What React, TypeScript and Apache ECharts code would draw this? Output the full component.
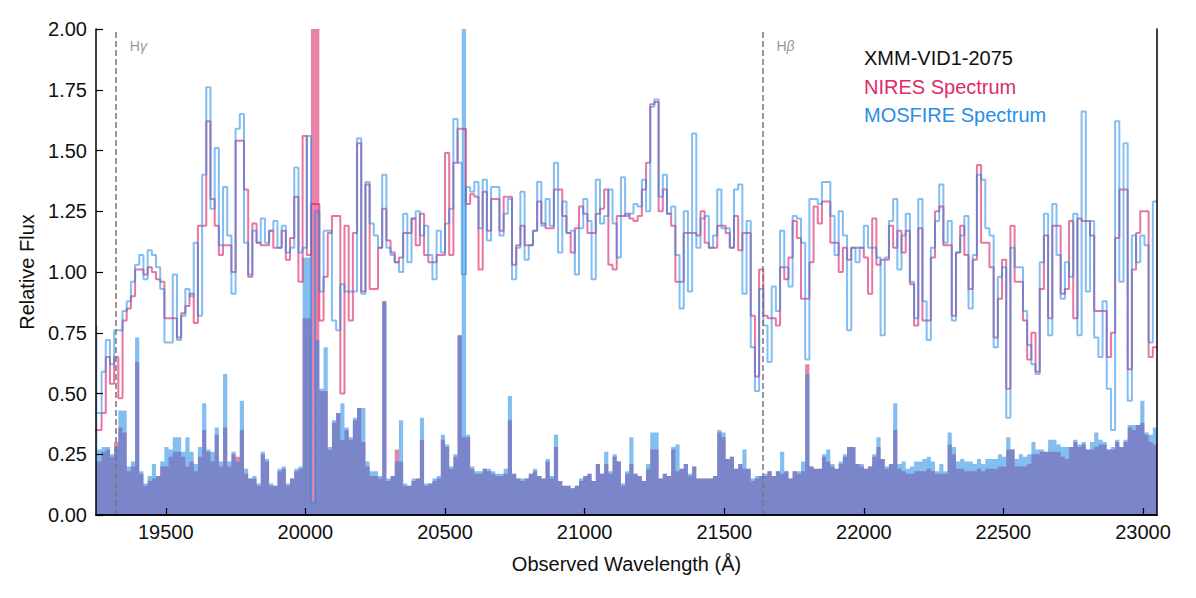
import React, { useEffect, useRef } from "react";
import * as echarts from "echarts";

// Wavelength grid of the rebinned spectra (left edge of first bin, bin width in Å)
const BIN_START = 19240;
const BIN_WIDTH = 15;
const X_MIN = 19250;
const X_MAX = 23050;

const H_GAMMA = 19321;
const H_BETA = 21637;

const niresFlux = [
  0.35, 0.35, 0.42, 0.65, 0.54, 0.65, 0.48, 0.80, 0.85, 0.90,
  1.01, 1.01, 0.99, 1.02, 1.00, 0.97, 0.96, 0.81, 0.81, 0.81,
  0.73, 0.83, 0.86, 0.91, 0.79, 1.19, 1.19, 1.62, 1.30, 1.19,
  1.07, 1.11, 1.11, 1.00, 1.54, 1.54, 1.34, 0.98, 1.20, 1.12,
  1.11, 1.11, 1.17, 1.10, 1.10, 1.17, 1.05, 1.14, 1.31, 0.96,
  1.56, 1.07, 1.28, 1.28, 0.80, 0.98, 1.16, 1.23, 1.23, 0.50,
  1.19, 0.80, 1.16, 1.53, 0.92, 1.36, 0.93, 0.93, 1.10, 1.26,
  1.13, 1.08, 1.04, 1.06, 1.16, 1.16, 1.22, 1.11, 1.24, 1.07,
  1.04, 1.04, 1.07, 1.07, 1.49, 1.07, 1.45, 1.59, 1.59, 1.28,
  1.32, 1.31, 1.01, 1.33, 1.17, 1.30, 1.30, 1.17, 1.31, 1.31,
  1.03, 1.11, 1.19, 1.11, 1.11, 1.17, 1.29, 1.20, 1.18, 1.18,
  1.34, 1.34, 1.23, 1.16, 1.08, 1.18, 1.27, 1.24, 1.16, 1.16,
  1.24, 1.26, 1.34, 1.03, 1.01, 1.23, 1.23, 1.24, 1.22, 1.21,
  1.23, 1.34, 1.45, 1.69, 1.70, 1.25, 1.34, 1.24, 1.19, 0.96,
  0.96, 1.16, 1.16, 1.16, 1.15, 1.25, 1.12, 1.10, 1.10, 1.19,
  1.19, 1.16, 1.10, 1.23, 1.09, 1.16, 1.16, 0.82, 0.57, 1.01,
  0.82, 0.81, 0.81, 0.78, 1.02, 0.97, 1.06, 1.21, 1.14, 0.89,
  0.89, 1.04, 1.27, 1.20, 1.29, 1.29, 1.12, 1.12, 1.00, 1.10,
  1.05, 1.10, 1.10, 1.10, 1.06, 0.91, 1.22, 1.03, 1.05, 1.05,
  1.19, 1.10, 1.17, 1.08, 1.17, 0.95, 0.78, 1.18, 0.80, 0.80,
  1.06, 1.25, 1.27, 1.11, 1.11, 0.82, 1.08, 1.19, 1.07, 0.93,
  1.05, 1.44, 1.12, 1.12, 1.02, 0.73, 0.89, 1.05, 0.52, 1.19,
  0.96, 0.96, 0.80, 0.64, 0.75, 0.59, 0.93, 1.15, 0.81, 1.19,
  1.19, 0.91, 0.93, 1.21, 0.81, 1.22, 1.21, 1.21, 1.15, 0.84,
  0.84, 0.84, 0.65, 0.75, 1.14, 1.34, 1.34, 0.60, 1.01, 1.16,
  1.25, 1.25, 0.65, 0.69,
];

const mosfireFlux = [
  0.42, 0.42, 0.59, 0.72, 0.62, 0.76, 0.76, 0.84, 0.88, 0.96,
  1.03, 1.07, 0.97, 1.09, 1.07, 1.02, 0.93, 0.71, 0.71, 0.99,
  0.72, 0.82, 0.93, 0.90, 1.12, 0.82, 1.40, 1.76, 1.26, 1.51,
  1.11, 1.35, 1.15, 0.91, 1.59, 1.65, 1.12, 0.99, 1.17, 1.12,
  1.22, 1.12, 1.17, 1.21, 1.10, 1.19, 1.08, 1.10, 1.43, 1.08,
  1.10, 1.56, 0.05, 1.25, 0.92, 1.17, 1.17, 0.80, 0.76, 0.95,
  0.92, 0.92, 0.92, 1.55, 0.91, 1.37, 1.20, 1.15, 1.10, 1.40,
  1.10, 1.07, 1.04, 1.00, 1.24, 1.04, 1.22, 1.25, 1.15, 1.19,
  1.07, 0.97, 1.17, 1.08, 1.20, 1.26, 1.63, 1.45, 0.99, 1.35,
  1.33, 1.37, 1.18, 1.38, 1.13, 1.35, 1.35, 1.15, 1.24, 1.30,
  0.97, 1.10, 1.33, 1.05, 1.11, 1.17, 1.37, 1.19, 1.30, 1.19,
  1.45, 1.08, 1.29, 1.16, 1.17, 0.99, 1.18, 1.30, 1.21, 0.97,
  1.38, 1.20, 1.23, 1.34, 1.20, 1.06, 1.39, 1.23, 1.24, 1.28,
  1.27, 1.38, 1.25, 1.68, 1.71, 1.31, 1.40, 1.24, 1.27, 1.07,
  0.85, 1.25, 0.92, 1.57, 1.10, 1.22, 1.23, 1.10, 1.15, 1.34,
  1.18, 1.18, 1.10, 1.34, 1.36, 0.91, 1.21, 0.69, 0.51, 0.93,
  0.78, 0.63, 0.94, 0.84, 1.17, 1.02, 0.94, 1.23, 1.22, 1.12,
  0.64, 1.30, 1.30, 1.28, 1.37, 1.37, 1.23, 1.07, 1.25, 1.15,
  0.76, 1.10, 1.04, 1.10, 1.19, 1.10, 1.10, 1.06, 0.74, 1.06,
  1.21, 1.30, 1.01, 1.15, 1.24, 0.96, 0.81, 1.30, 0.88, 0.72,
  1.10, 1.21, 1.36, 1.12, 1.21, 0.80, 1.08, 1.15, 1.23, 0.85,
  1.07, 1.40, 1.38, 1.18, 1.15, 0.69, 0.98, 1.02, 0.40, 1.10,
  1.02, 1.02, 0.84, 0.70, 0.62, 0.58, 1.04, 1.24, 0.74, 1.28,
  1.07, 0.89, 1.04, 0.98, 1.24, 0.74, 1.66, 0.92, 1.21, 0.73,
  0.65, 0.88, 0.52, 0.35, 1.62, 0.96, 1.53, 0.47, 1.15, 1.04,
  1.15, 1.11, 0.71, 1.29,
];

const niresErr = [
  0.22, 0.22, 0.26, 0.27, 0.24, 0.30, 0.36, 0.34, 0.18, 0.20,
  0.63, 0.17, 0.12, 0.14, 0.15, 0.16, 0.20, 0.20, 0.24, 0.26,
  0.26, 0.24, 0.20, 0.22, 0.18, 0.24, 0.35, 0.26, 0.22, 0.33,
  0.20, 0.36, 0.20, 0.25, 0.24, 0.35, 0.17, 0.15, 0.15, 0.12,
  0.25, 0.22, 0.12, 0.12, 0.18, 0.19, 0.12, 0.15, 0.18, 0.19,
  0.81, 0.81, 2.60, 2.60, 0.51, 0.51, 0.27, 0.38, 0.42, 0.31,
  0.35, 0.31, 0.39, 0.44, 0.30, 0.20, 0.16, 0.16, 0.15, 0.88,
  0.14, 0.16, 0.27, 0.22, 0.12, 0.12, 0.14, 0.15, 0.31, 0.12,
  0.13, 0.14, 0.15, 0.31, 0.28, 0.19, 0.24, 0.74, 0.32, 0.32,
  0.19, 0.17, 0.17, 0.19, 0.18, 0.17, 0.16, 0.16, 0.17, 0.39,
  0.17, 0.15, 0.14, 0.15, 0.17, 0.18, 0.16, 0.15, 0.22, 0.15,
  0.28, 0.14, 0.12, 0.12, 0.11, 0.12, 0.14, 0.16, 0.17, 0.14,
  0.21, 0.17, 0.21, 0.17, 0.24, 0.22, 0.12, 0.17, 0.21, 0.17,
  0.16, 0.14, 0.19, 0.27, 0.27, 0.15, 0.17, 0.16, 0.27, 0.18,
  0.19, 0.21, 0.16, 0.20, 0.15, 0.15, 0.15, 0.15, 0.16, 0.34,
  0.32, 0.23, 0.24, 0.19, 0.21, 0.19, 0.19, 0.14, 0.15, 0.16,
  0.16, 0.18, 0.16, 0.18, 0.17, 0.18, 0.15, 0.18, 0.17, 0.18,
  0.62, 0.20, 0.19, 0.19, 0.24, 0.22, 0.20, 0.19, 0.21, 0.24,
  0.28, 0.28, 0.21, 0.20, 0.19, 0.20, 0.24, 0.28, 0.23, 0.19,
  0.21, 0.35, 0.19, 0.18, 0.17, 0.17, 0.18, 0.18, 0.18, 0.19,
  0.18, 0.17, 0.17, 0.17, 0.29, 0.25, 0.19, 0.19, 0.18, 0.18,
  0.18, 0.19, 0.18, 0.19, 0.19, 0.19, 0.20, 0.20, 0.27, 0.27,
  0.20, 0.20, 0.20, 0.21, 0.25, 0.25, 0.26, 0.26, 0.26, 0.26,
  0.26, 0.24, 0.23, 0.28, 0.30, 0.28, 0.29, 0.27, 0.27, 0.28,
  0.29, 0.29, 0.27, 0.27, 0.30, 0.28, 0.30, 0.36, 0.35, 0.37,
  0.38, 0.33, 0.30, 0.29,
];

const mosfireErr = [
  0.78, 0.27, 0.28, 0.28, 0.25, 0.28, 0.43, 0.43, 0.20, 0.22,
  0.73, 0.18, 0.13, 0.16, 0.21, 0.16, 0.22, 0.28, 0.27, 0.32,
  0.32, 0.26, 0.32, 0.26, 0.21, 0.28, 0.46, 0.27, 0.26, 0.36,
  0.22, 0.58, 0.22, 0.26, 0.22, 0.47, 0.19, 0.15, 0.16, 0.13,
  0.26, 0.23, 0.13, 0.12, 0.19, 0.20, 0.13, 0.15, 0.19, 0.20,
  1.06, 1.06, 0.05, 0.72, 0.52, 0.69, 0.28, 0.39, 0.42, 0.46,
  0.36, 0.32, 0.40, 0.44, 0.44, 0.22, 0.18, 0.18, 0.16, 0.88,
  0.15, 0.16, 0.22, 0.39, 0.13, 0.12, 0.15, 0.15, 0.40, 0.13,
  0.13, 0.15, 0.16, 0.33, 0.29, 0.20, 0.25, 0.74, 2.60, 0.33,
  0.20, 0.18, 0.18, 0.19, 0.19, 0.18, 0.17, 0.17, 0.19, 0.49,
  0.17, 0.15, 0.15, 0.15, 0.17, 0.19, 0.16, 0.15, 0.23, 0.16,
  0.33, 0.14, 0.12, 0.12, 0.11, 0.12, 0.15, 0.16, 0.17, 0.14,
  0.21, 0.17, 0.26, 0.18, 0.25, 0.22, 0.13, 0.18, 0.32, 0.17,
  0.16, 0.14, 0.21, 0.34, 0.34, 0.15, 0.17, 0.16, 0.28, 0.29,
  0.19, 0.21, 0.17, 0.20, 0.15, 0.15, 0.15, 0.15, 0.16, 0.35,
  0.34, 0.23, 0.24, 0.19, 0.21, 0.27, 0.19, 0.15, 0.16, 0.16,
  0.17, 0.18, 0.16, 0.18, 0.26, 0.18, 0.15, 0.18, 0.18, 0.22,
  0.58, 0.20, 0.19, 0.19, 0.25, 0.27, 0.21, 0.19, 0.22, 0.25,
  0.28, 0.28, 0.21, 0.21, 0.19, 0.20, 0.25, 0.32, 0.23, 0.20,
  0.21, 0.46, 0.21, 0.22, 0.19, 0.20, 0.22, 0.22, 0.23, 0.24,
  0.22, 0.18, 0.21, 0.18, 0.34, 0.28, 0.22, 0.23, 0.22, 0.22,
  0.21, 0.23, 0.21, 0.23, 0.23, 0.23, 0.25, 0.24, 0.32, 0.27,
  0.23, 0.25, 0.24, 0.25, 0.30, 0.27, 0.27, 0.26, 0.31, 0.31,
  0.29, 0.28, 0.28, 0.28, 0.31, 0.29, 0.30, 0.27, 0.30, 0.34,
  0.31, 0.30, 0.27, 0.28, 0.31, 0.28, 0.31, 0.37, 0.37, 0.37,
  0.47, 0.34, 0.33, 0.36,
];

const xTickLabelDigits = 0;
const yTickLabelDigits = 2;

const FONT = "'Liberation Sans', Arial, Helvetica, sans-serif";
const PINK = "216,27,96";
const BLUE = "30,136,229";

function stepPoints(values: number[]): number[][] {
  const pts = values.map((v, i) => [BIN_START + i * BIN_WIDTH, v]);
  pts.push([BIN_START + values.length * BIN_WIDTH, values[values.length - 1]]);
  return pts;
}

export default function App() {
  const ref = useRef<HTMLDivElement>(null);

  useEffect(() => {
    if (!ref.current) return;
    const chart = echarts.init(ref.current, undefined, { renderer: "svg" });

    const frameAxisLine = { show: true, lineStyle: { color: "#000", width: 1.5 } };

    const option: any = {
      animation: false,
      backgroundColor: "#fff",
      grid: { left: 96, right: 39, top: 29, bottom: 83, containLabel: false },
      xAxis: [
        {
          type: "value",
          min: X_MIN,
          max: X_MAX,
          splitNumber: 8,
          minInterval: 500,
          maxInterval: 500,
          z: 10,
          axisLine: frameAxisLine,
          axisTick: { show: true, inside: true, length: 7, lineStyle: { color: "#000", width: 1.2 } },
          axisLabel: {
            fontSize: 20,
            color: "#111",
            margin: 7,
            fontFamily: FONT,
            showMinLabel: false,
            showMaxLabel: false,
            formatter: (v: number) => v.toFixed(xTickLabelDigits),
          },
          splitLine: { show: false },
          name: "Observed Wavelength (Å)",
          nameLocation: "middle",
          nameGap: 39,
          nameTextStyle: { fontSize: 20, color: "#111", fontFamily: FONT },
        },
        {
          type: "value",
          position: "top",
          min: X_MIN,
          max: X_MAX,
          z: 10,
          axisLine: frameAxisLine,
          axisTick: { show: false },
          axisLabel: { show: false },
          splitLine: { show: false },
        },
      ],
      yAxis: [
        {
          type: "value",
          min: 0,
          max: 2,
          interval: 0.25,
          z: 10,
          axisLine: frameAxisLine,
          axisTick: { show: true, inside: true, length: 7, lineStyle: { color: "#000", width: 1.2 } },
          axisLabel: {
            fontSize: 20,
            color: "#111",
            margin: 9,
            fontFamily: FONT,
            formatter: (v: number) => v.toFixed(yTickLabelDigits),
          },
          splitLine: { show: false },
          name: "Relative Flux",
          nameLocation: "middle",
          nameGap: 57,
          nameRotate: 90,
          nameTextStyle: { fontSize: 20, color: "#111", fontFamily: FONT },
        },
        {
          type: "value",
          position: "right",
          min: 0,
          max: 2,
          z: 10,
          axisLine: frameAxisLine,
          axisTick: { show: false },
          axisLabel: { show: false },
          splitLine: { show: false },
        },
      ],
      series: [
        {
          name: "NIRES error",
          type: "line",
          step: "end",
          data: stepPoints(niresErr),
          symbol: "none",
          lineStyle: { width: 0 },
          areaStyle: { color: `rgba(${PINK},0.55)`, opacity: 1 },
          silent: true,
        },
        {
          name: "MOSFIRE error",
          type: "line",
          step: "end",
          data: stepPoints(mosfireErr),
          symbol: "none",
          lineStyle: { width: 0 },
          areaStyle: { color: `rgba(${BLUE},0.55)`, opacity: 1 },
          silent: true,
          markLine: {
            silent: true,
            symbol: ["none", "none"],
            label: { show: false },
            lineStyle: { type: [6, 3], color: "#777", width: 1.5 },
            data: [{ xAxis: H_GAMMA }, { xAxis: H_BETA }],
          },
        },
        {
          name: "NIRES Spectrum",
          type: "line",
          step: "end",
          data: stepPoints(niresFlux),
          symbol: "none",
          lineStyle: { width: 2, color: `rgba(${PINK},0.6)` },
          silent: true,
        },
        {
          name: "MOSFIRE Spectrum",
          type: "line",
          step: "end",
          data: stepPoints(mosfireFlux),
          symbol: "none",
          lineStyle: { width: 2, color: `rgba(${BLUE},0.55)` },
          silent: true,
        },
      ],
    };

    chart.setOption(option);

    const gx = chart.convertToPixel({ xAxisIndex: 0 }, H_GAMMA) as number;
    const bx = chart.convertToPixel({ xAxisIndex: 0 }, H_BETA) as number;
    const lineLabel = (x: number, greek: string) => ({
      type: "text",
      x: x + 14,
      y: 46,
      z: 20,
      silent: true,
      style: {
        text: `{h|H}{g|${greek}}`,
        align: "left",
        verticalAlign: "middle",
        fill: "#999",
        rich: {
          h: { fontSize: 14, fill: "#999", fontFamily: FONT },
          g: { fontSize: 14, fill: "#999", fontFamily: FONT, fontStyle: "italic" },
        },
      },
    });
    const legendText = (y: number, text: string, color: string) => ({
      type: "text",
      x: 864,
      y,
      z: 20,
      silent: true,
      style: {
        text,
        fill: color,
        fontSize: 20,
        fontFamily: FONT,
        align: "left",
        verticalAlign: "middle",
      },
    });

    chart.setOption({
      graphic: [
        lineLabel(gx, "γ"),
        lineLabel(bx, "β"),
        legendText(58, "XMM-VID1-2075", "#111"),
        legendText(87, "NIRES Spectrum", "#DD2B68"),
        legendText(115, "MOSFIRE Spectrum", "#2A8DE6"),
      ],
    });

    return () => chart.dispose();
  }, []);

  return (
    <div
      ref={ref}
      style={{ position: "fixed", left: 0, top: 0, width: 1196, height: 598, background: "#fff" }}
    />
  );
}
